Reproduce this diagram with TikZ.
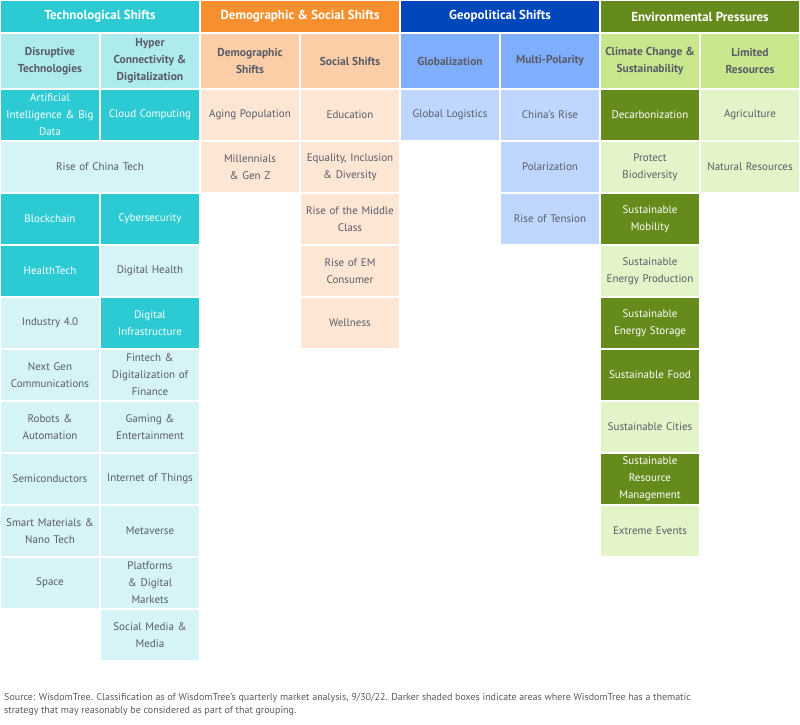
\documentclass[tikz,border=0pt]{standalone}
\usepackage{fontspec}
\setmainfont{PT Sans}
\definecolor{tH}{HTML}{2CCAD3}\definecolor{tS}{HTML}{ADEBED}\definecolor{tL}{HTML}{D6F4F7}
\definecolor{oH}{HTML}{F78F2E}\definecolor{oS}{HTML}{FBCEA8}\definecolor{oL}{HTML}{FDE6D4}
\definecolor{bH}{HTML}{0047BB}\definecolor{bS}{HTML}{80AEFF}\definecolor{bL}{HTML}{BFD7FF}
\definecolor{gH}{HTML}{658B1C}\definecolor{gS}{HTML}{C8E78C}\definecolor{gL}{HTML}{E4F4C9}
\definecolor{txt}{HTML}{595B66}
\tikzset{cellbox/.style={draw=white,line width=1.5pt,inner sep=2pt,align=center,font=\fontsize{11}{17}\selectfont,text=txt},
hdr/.style={cellbox,text=white,font=\bfseries\fontsize{13}{15}\selectfont},
sub/.style={cellbox,font=\bfseries\fontsize{11.5}{17}\selectfont},
dk/.style={text=white}}
% \cellat{name}{col}{row}{ncols}{fill}{extra}{text}
\newcommand\cellat[7]{\node[cellbox,fill=#5,#6,minimum width=#4*100pt,minimum height=52pt,text width=#4*100pt-8pt] (#1) at ({(#2-1)*100+#4*50},{-(89+52*(#3-1)+26)}) {#7};}
\begin{document}
\begin{tikzpicture}[x=1pt,y=1pt]
\useasboundingbox (0,0) rectangle (800,-725);
\fill[white] (0,0) rectangle (800,-725);
\node[hdr,fill=tH,minimum width=200pt,minimum height=33pt] (h1) at (100,-16.5) {Technological Shifts};
\node[hdr,fill=oH,minimum width=200pt,minimum height=33pt] (h2) at (300,-16.5) {Demographic \& Social Shifts};
\node[hdr,fill=bH,minimum width=200pt,minimum height=33pt] (h3) at (500,-16.5) {Geopolitical Shifts};
\node[hdr,fill=gH,minimum width=200pt,minimum height=33pt] (h4) at (700,-16.5) {Environmental Pressures};
\foreach \n/\x/\c/\t in {s1/50/tS/Disruptive\\Technologies, s2/150/tS/Hyper\\Connectivity \&\\Digitalization, s3/250/oS/Demographic\\Shifts, s4/350/oS/Social Shifts, s5/450/bS/Globalization, s6/550/bS/Multi-Polarity, s7/650/gS/Climate Change \&\\Sustainability, s8/750/gS/Limited\\Resources}
  \node[sub,fill=\c,minimum width=100pt,minimum height=56pt] (\n) at (\x,-61) {\t};
\cellat{a1}{1}{1}{1}{tH}{dk}{Artificial\\Intelligence \& Big\\Data}
\cellat{a2}{1}{2}{2}{tL}{}{Rise of China Tech}
\cellat{a3}{1}{3}{1}{tH}{dk}{Blockchain}
\cellat{a4}{1}{4}{1}{tH}{dk}{HealthTech}
\cellat{a5}{1}{5}{1}{tL}{}{Industry 4.0}
\cellat{a6}{1}{6}{1}{tL}{}{Next Gen\\Communications}
\cellat{a7}{1}{7}{1}{tL}{}{Robots \&\\Automation}
\cellat{a8}{1}{8}{1}{tL}{}{Semiconductors}
\cellat{a9}{1}{9}{1}{tL}{}{Smart Materials \&\\Nano Tech}
\cellat{a10}{1}{10}{1}{tL}{}{Space}
\cellat{b1}{2}{1}{1}{tH}{dk}{Cloud Computing}
\cellat{b3}{2}{3}{1}{tH}{dk}{Cybersecurity}
\cellat{b4}{2}{4}{1}{tL}{}{Digital Health}
\cellat{b5}{2}{5}{1}{tH}{dk}{Digital\\Infrastructure}
\cellat{b6}{2}{6}{1}{tL}{}{Fintech \&\\Digitalization of\\Finance}
\cellat{b7}{2}{7}{1}{tL}{}{Gaming \&\\Entertainment}
\cellat{b8}{2}{8}{1}{tL}{}{Internet of Things}
\cellat{b9}{2}{9}{1}{tL}{}{Metaverse}
\cellat{b10}{2}{10}{1}{tL}{}{Platforms \& Digital\\Markets}
\cellat{b11}{2}{11}{1}{tL}{}{Social Media \&\\Media}
\cellat{c1}{3}{1}{1}{oL}{}{Aging Population}
\cellat{c2}{3}{2}{1}{oL}{}{Millennials \& Gen Z}
\cellat{d1}{4}{1}{1}{oL}{}{Education}
\cellat{d2}{4}{2}{1}{oL}{}{Equality, Inclusion\\\& Diversity}
\cellat{d3}{4}{3}{1}{oL}{}{Rise of the Middle\\Class}
\cellat{d4}{4}{4}{1}{oL}{}{Rise of EM\\Consumer}
\cellat{d5}{4}{5}{1}{oL}{}{Wellness}
\cellat{e1}{5}{1}{1}{bL}{}{Global Logistics}
\cellat{f1}{6}{1}{1}{bL}{}{China's Rise}
\cellat{f2}{6}{2}{1}{bL}{}{Polarization}
\cellat{f3}{6}{3}{1}{bL}{}{Rise of Tension}
\cellat{g1}{7}{1}{1}{gH}{dk}{Decarbonization}
\cellat{g2}{7}{2}{1}{gL}{}{Protect\\Biodiversity}
\cellat{g3}{7}{3}{1}{gH}{dk}{Sustainable\\Mobility}
\cellat{g4}{7}{4}{1}{gL}{}{Sustainable\\Energy Production}
\cellat{g5}{7}{5}{1}{gH}{dk}{Sustainable\\Energy Storage}
\cellat{g6}{7}{6}{1}{gH}{dk}{Sustainable Food}
\cellat{g7}{7}{7}{1}{gL}{}{Sustainable Cities}
\cellat{g8}{7}{8}{1}{gH}{dk}{Sustainable\\Resource\\Management}
\cellat{g9}{7}{9}{1}{gL}{}{Extreme Events}
\cellat{k1}{8}{1}{1}{gL}{}{Agriculture}
\cellat{k2}{8}{2}{1}{gL}{}{Natural Resources}
\node[anchor=north west,align=left,text=txt,font=\fontsize{10}{13}\selectfont,inner sep=0pt] (src) at (4,-693) {Source: WisdomTree. Classification as of WisdomTree's quarterly market analysis, 9/30/22. Darker shaded boxes indicate areas where WisdomTree has a thematic\\strategy that may reasonably be considered as part of that grouping.};
\end{tikzpicture}
\end{document}
